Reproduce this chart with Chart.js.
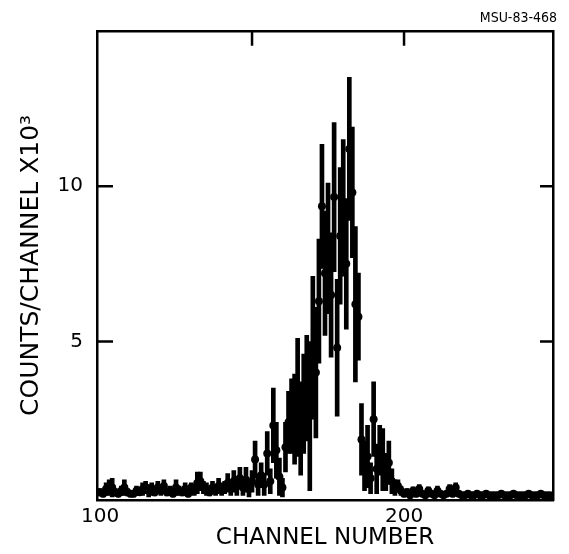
<!DOCTYPE html>
<html lang="en">
<head>
<meta charset="UTF-8">
<title>MSU-83-468</title>
<script src="https://cdn.jsdelivr.net/npm/chart.js@4.4.1/dist/chart.umd.min.js"></script>
<style>
  html, body { margin: 0; padding: 0; background: #fff; }
</style>
</head>
<body>
<canvas id="spectrum" width="569" height="554"></canvas>
<script>
// counts per channel (x10^3), one entry per channel from FIRST_CHANNEL on
var FIRST_CHANNEL = 100;
var counts = [
  0.15, 0.10, 0.25, 0.30, 0.30, 0.15, 0.10, 0.20, 0.30, 0.15,
  0.10, 0.10, 0.20, 0.15, 0.25, 0.30, 0.20, 0.25, 0.15, 0.30,
  0.20, 0.35, 0.15, 0.20, 0.10, 0.30, 0.20, 0.15, 0.25, 0.10,
  0.30, 0.20, 0.45, 0.50, 0.30, 0.25, 0.15, 0.30, 0.20, 0.35,
  0.25, 0.30, 0.45, 0.30, 0.50, 0.35, 0.60, 0.30, 0.55, 0.25,
  0.50, 1.20, 0.40, 0.70, 0.40, 1.40, 0.50, 2.30, 1.50, 0.65,
  0.30, 1.60, 2.40, 2.60, 2.50, 3.20, 2.20, 3.00, 3.50, 2.60,
  4.80, 4.00, 6.30, 9.35, 7.20, 8.00, 6.50, 9.65, 4.80, 8.40,
  9.30, 7.50, 11.20, 9.80, 6.20, 5.80, 1.85, 1.00, 1.30, 0.60,
  2.50, 0.90, 1.50, 1.20, 0.80, 1.10, 0.50, 0.30, 0.35, 0.20,
  0.10, 0.15, 0.05, 0.20, 0.10, 0.25, 0.10, 0.05, 0.20, 0.10,
  0.05, 0.20, 0.10, 0.05, 0.10, 0.25, 0.10, 0.30, 0.10, 0.05,
  0.05, 0.10, 0.05, 0.05, 0.10, 0.05, 0.05, 0.10, 0.05, 0.05,
  0.05, 0.05, 0.10, 0.05, 0.05, 0.05, 0.10, 0.05, 0.05, 0.05,
  0.05, 0.10, 0.05, 0.05, 0.05, 0.10, 0.05, 0.05, 0.05
];
// statistical error (half length of each bar)
var errors = [
  0.12, 0.10, 0.20, 0.25, 0.30, 0.12, 0.10, 0.15, 0.25, 0.12,
  0.10, 0.10, 0.15, 0.10, 0.20, 0.20, 0.20, 0.20, 0.12, 0.20,
  0.15, 0.20, 0.12, 0.15, 0.10, 0.25, 0.15, 0.12, 0.20, 0.10,
  0.15, 0.15, 0.35, 0.30, 0.20, 0.20, 0.12, 0.20, 0.15, 0.25,
  0.20, 0.20, 0.30, 0.25, 0.35, 0.30, 0.35, 0.25, 0.40, 0.25,
  0.35, 0.60, 0.35, 0.40, 0.35, 0.70, 0.40, 1.20, 0.90, 0.60,
  0.30, 0.80, 1.00, 1.20, 1.45, 1.90, 1.50, 1.60, 1.70, 2.40,
  2.30, 2.10, 2.00, 2.00, 2.00, 2.10, 2.00, 2.40, 2.20, 2.20,
  2.20, 2.10, 2.30, 2.10, 2.50, 1.40, 1.15, 0.80, 1.00, 0.50,
  1.20, 0.80, 0.80, 1.00, 0.60, 0.70, 0.40, 0.25, 0.20, 0.15,
  0.10, 0.12, 0.05, 0.12, 0.10, 0.15, 0.08, 0.05, 0.12, 0.08,
  0.05, 0.15, 0.08, 0.05, 0.08, 0.15, 0.10, 0.15, 0.08, 0.05,
  0.05, 0.08, 0.05, 0.05, 0.08, 0.05, 0.05, 0.08, 0.05, 0.05,
  0.05, 0.05, 0.08, 0.05, 0.05, 0.05, 0.08, 0.05, 0.05, 0.05,
  0.05, 0.08, 0.05, 0.05, 0.05, 0.08, 0.05, 0.05, 0.05
];
var xTicks = [100, 200];
var yTicks = [5, 10];
var topTicks = [150, 200];

var FONT = 'DejaVu Sans';
var INK = '#000';

var points = [];
var bars = [];
for (var i = 0; i < counts.length; i++) {
  var ch = FIRST_CHANNEL + i;
  points.push({ x: ch, y: counts[i] });
  bars.push({ x: ch, y: [counts[i] - errors[i], counts[i] + errors[i]] });
}

// tick marks pointing into the frame
var innerTicks = {
  id: 'innerTicks',
  afterDraw: function (chart) {
    var ctx = chart.ctx;
    var area = chart.chartArea;
    var sx = chart.scales.x;
    var sy = chart.scales.y;
    ctx.save();
    ctx.strokeStyle = INK;
    ctx.lineWidth = 2.5;
    ctx.beginPath();
    yTicks.forEach(function (v) {
      var py = sy.getPixelForValue(v);
      ctx.moveTo(area.left, py);
      ctx.lineTo(area.left + 16, py);
      ctx.moveTo(area.right, py);
      ctx.lineTo(area.right - 13, py);
    });
    topTicks.forEach(function (v) {
      var px = sx.getPixelForValue(v);
      ctx.moveTo(px, area.top);
      ctx.lineTo(px, area.top + 15);
    });
    ctx.stroke();
    ctx.restore();
  }
};

var frame = { display: true, color: INK, width: 2.5 };

new Chart(document.getElementById('spectrum'), {
  type: 'scatter',
  data: {
    datasets: [
      {
        type: 'bar',
        data: bars,
        backgroundColor: INK,
        borderWidth: 0,
        barThickness: 4,
        borderSkipped: false
      },
      {
        type: 'scatter',
        data: points,
        pointRadius: 4,
        pointBackgroundColor: INK,
        pointBorderWidth: 0,
        showLine: false
      }
    ]
  },
  options: {
    responsive: false,
    animation: false,
    layout: { padding: { left: 0, right: 12, top: 0, bottom: 0 } },
    plugins: {
      legend: { display: false },
      tooltip: { enabled: false },
      title: {
        display: true,
        text: 'MSU-83-468',
        align: 'end',
        color: INK,
        font: { family: 'DejaVu Sans Condensed', size: 14, weight: 'normal' },
        padding: { top: 10, bottom: 4 }
      }
    },
    scales: {
      x: {
        type: 'linear',
        position: 'bottom',
        offset: false,
        min: 99,
        max: 249,
        afterBuildTicks: function (s) { s.ticks = xTicks.map(function (v) { return { value: v }; }); },
        afterFit: function (s) { s.height = 54; },
        grid: { display: false, offset: false },
        border: frame,
        ticks: { color: INK, font: { family: FONT, size: 20 }, padding: -3, maxRotation: 0, autoSkip: false },
        title: {
          display: true,
          text: 'CHANNEL NUMBER',
          color: INK,
          font: { family: FONT, size: 23 },
          padding: { top: 0, bottom: 2 }
        }
      },
      y: {
        type: 'linear',
        position: 'left',
        min: -0.1,
        max: 15,
        afterBuildTicks: function (s) { s.ticks = yTicks.map(function (v) { return { value: v }; }); },
        afterFit: function (s) { s.width = 97; },
        grid: { display: false },
        border: frame,
        ticks: { color: INK, font: { family: FONT, size: 20 }, padding: 6 },
        title: {
          display: true,
          text: 'COUNTS/CHANNEL X10\u00B3',
          color: INK,
          font: { family: FONT, size: 25 },
          padding: { top: 16, bottom: 0 }
        }
      },
      x2: {
        type: 'linear',
        position: 'top',
        offset: false,
        min: 99,
        max: 249,
        afterFit: function (s) { s.height = 0; },
        grid: { display: false },
        border: frame,
        ticks: { display: false }
      },
      y2: {
        type: 'linear',
        position: 'right',
        min: -0.1,
        max: 15,
        afterFit: function (s) { s.width = 4; },
        grid: { display: false },
        border: frame,
        ticks: { display: false }
      }
    }
  },
  plugins: [innerTicks]
});
</script>
</body>
</html>
